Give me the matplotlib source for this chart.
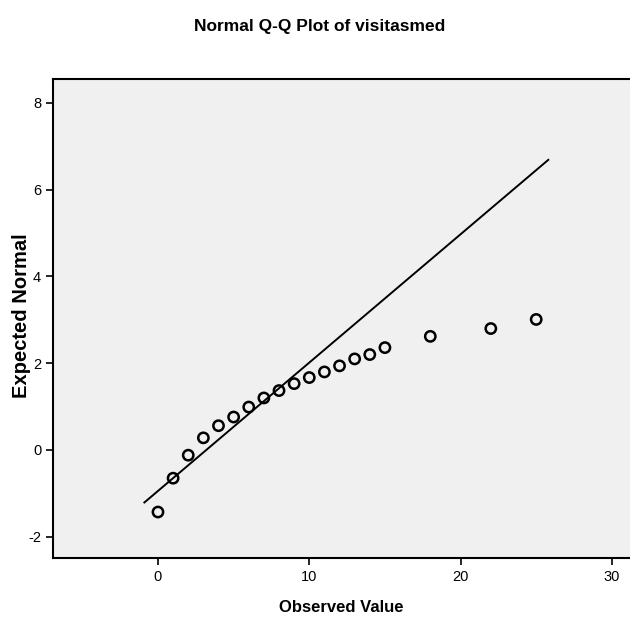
import matplotlib
matplotlib.use('Agg')
import matplotlib.pyplot as plt
import numpy as np

observado = [0, 1, 2, 3, 4, 5, 6, 7, 8, 9, 10, 11, 12, 13, 14, 15, 18, 22, 25]
esperado = [-1.43, -0.65, -0.12, 0.28, 0.56, 0.76, 0.99, 1.20, 1.37, 1.53,
            1.67, 1.80, 1.94, 2.10, 2.20, 2.36, 2.62, 2.80, 3.01]
media = 3.19
desv = 3.38
linea_x = [-0.9, 25.8]
xticks = [0, 10, 20, 30]
yticks = [-2, 0, 2, 4, 6, 8]

plt.rcParams['axes.unicode_minus'] = False
plt.rcParams['font.family'] = ['Liberation Sans', 'DejaVu Sans']

fig = plt.figure(figsize=(6.3, 6.21), dpi=100)
ax = fig.add_axes([53 / 630, (621 - 558) / 621, 577 / 630, (558 - 78.7) / 621])
ax.set_facecolor('#f0f0f0')

lx = np.array(linea_x)
ax.plot(lx, (lx - media) / desv, color='black', lw=1.4)
ax.scatter(observado, esperado, s=55, facecolors='none', edgecolors='black', linewidths=1.8, zorder=3)

ax.set_xlim(-6.94, 31.2)
ax.set_ylim(-2.49, 8.56)
ax.set_xticks(xticks)
ax.set_yticks(yticks)
ax.spines['right'].set_visible(False)
for s in ['left', 'bottom', 'top']:
    ax.spines[s].set_linewidth(1.5)
ax.tick_params(length=5, width=1.2, labelsize=10.5, colors='black')

ax.set_xlabel('Observed Value', fontweight='bold', fontsize=12, labelpad=12)
fig.text(22 / 630, 1 - 316 / 621, 'Expected Normal', fontweight='bold', fontsize=14.5,
         rotation=90, ha='center', va='center')
fig.text(0.508, 0.958, 'Normal Q-Q Plot of visitasmed', fontweight='bold',
         fontsize=12.5, ha='center', va='center')

fig.savefig('out.png', dpi=100, facecolor='white')
